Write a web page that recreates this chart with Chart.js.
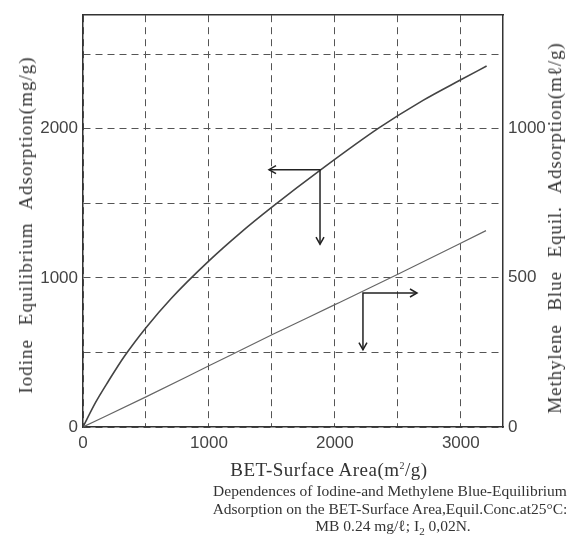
<!DOCTYPE html>
<html><head><meta charset="utf-8">
<script src="https://cdn.jsdelivr.net/npm/chart.js@4"></script>
<style>
html,body{margin:0;padding:0;background:#fff;}
#wrap{position:relative;width:573px;height:549px;overflow:hidden;}
canvas{position:absolute;left:0;top:0;}
.t{position:absolute;font-family:"Liberation Serif","DejaVu Serif",serif;color:#333;white-space:nowrap;}
.rot{transform:translate(-50%,-50%) rotate(-90deg);}
.ctr{transform:translate(-50%,-50%);}
</style></head>
<body><div id="wrap">
<canvas id="c" width="573" height="549"></canvas>
<div class="t rot" id="yl" style="left:26px;top:225px;font-size:19px;word-spacing:8px;letter-spacing:1px;">Iodine Equilibrium Adsorption(mg/g)</div>
<div class="t rot" id="yr" style="left:555px;top:228px;font-size:19px;word-spacing:8px;letter-spacing:0.9px;">Methylene Blue Equil. Adsorption(mℓ/g)</div>
<div class="t ctr" style="left:329px;top:470px;font-size:19px;letter-spacing:0.5px;">BET-Surface Area(m<sup style="font-size:10px;">2</sup>/g)</div>
<div class="t ctr" style="left:390px;top:491px;font-size:15.5px;">Dependences of Iodine-and Methylene Blue-Equilibrium</div>
<div class="t ctr" style="left:390px;top:509px;font-size:15.5px;">Adsorption on the BET-Surface Area,Equil.Conc.at25°C:</div>
<div class="t ctr" style="left:393px;top:527px;font-size:15.5px;">MB 0.24 mg/ℓ; I<sub style="font-size:11px;">2</sub> 0,02N.</div>
</div>
<script>
// ---- data ----
const iodineX = [0, 100, 200, 333, 500, 700, 1000, 1250, 1500, 1900, 2350, 2700, 3000, 3205];
const iodineY = [0, 165, 305, 479, 666, 862, 1114, 1302, 1474, 1732, 2005, 2190, 2328, 2420];
const mbX = [0, 500, 1000, 1500, 2000, 2500, 3200];
const mbY = [0, 101, 205, 309, 410, 512, 658];
const xTickValues = [0, 500, 1000, 1500, 2000, 2500, 3000];
const xTickLabels = ['0', '', '1000', '', '2000', '', '3000'];
const yLeftTickValues = [0, 500, 1000, 1500, 2000, 2500];
const yLeftTickLabels = ['0', '', '1000', '', '2000', ''];
const yRightTickValues = [0, 500, 1000];
const yRightTickLabels = ['0', '500', '1000'];
// arrows: corner, horizontal tip x, vertical tip y (data units)
const arrowCornerX = [1882, 2223];
const arrowCornerY = [1725, 449];
const arrowTipX = [1477, 2652];
const arrowTipY = [1226, 259];
const arrowAxis = ['yL', 'yR'];

const tickFont = {family: '"Liberation Sans", Arial, sans-serif', size: 17};
const gridCommon = {color: '#555', lineWidth: 1, drawTicks: false};
const borderCommon = {color: '#333', width: 1.5, dash: [7, 5]};

const arrowPlugin = {
  id: 'arrows',
  afterDatasetsDraw(chart) {
    const ctx = chart.ctx, xs = chart.scales.x;
    ctx.save();
    ctx.strokeStyle = '#222';
    ctx.lineWidth = 1.5;
    for (let i = 0; i < arrowCornerX.length; i++) {
      const ys = chart.scales[arrowAxis[i]];
      const cx = xs.getPixelForValue(arrowCornerX[i]);
      const cy = ys.getPixelForValue(arrowCornerY[i]);
      const tx = xs.getPixelForValue(arrowTipX[i]);
      const ty = ys.getPixelForValue(arrowTipY[i]);
      ctx.beginPath();
      ctx.moveTo(tx, cy); ctx.lineTo(cx, cy); ctx.lineTo(cx, ty);
      ctx.stroke();
      const d = Math.sign(tx - cx);
      ctx.beginPath();
      ctx.moveTo(tx - d * 7, cy - 4); ctx.lineTo(tx, cy); ctx.lineTo(tx - d * 7, cy + 4);
      ctx.stroke();
      ctx.beginPath();
      ctx.moveTo(cx - 4, ty - 7); ctx.lineTo(cx, ty); ctx.lineTo(cx + 4, ty - 7);
      ctx.stroke();
    }
    ctx.restore();
  }
};

new Chart(document.getElementById('c'), {
  type: 'line',
  data: {
    datasets: [
      {label: 'Iodine', data: iodineX.map((x, i) => ({x, y: iodineY[i]})), yAxisID: 'yL',
       borderColor: '#444', borderWidth: 1.6, pointRadius: 0, cubicInterpolationMode: 'monotone', fill: false},
      {label: 'MB', data: mbX.map((x, i) => ({x, y: mbY[i]})), yAxisID: 'yR',
       borderColor: '#666', borderWidth: 1.2, pointRadius: 0, cubicInterpolationMode: 'monotone', fill: false}
    ]
  },
  options: {
    responsive: false, animation: false, devicePixelRatio: 1,
    layout: {padding: 0},
    plugins: {legend: {display: false}, tooltip: {enabled: false}, title: {display: false}},
    scales: {
      x: {
        type: 'linear', position: 'bottom', min: 0, max: 3335,
        afterBuildTicks: s => { s.ticks = xTickValues.map(v => ({value: v})); },
        afterFit: s => { s.height = 122; },
        ticks: {font: tickFont, color: '#444', padding: 6, maxRotation: 0, autoSkip: false,
                callback: (v, i) => xTickLabels[i]},
        grid: gridCommon, border: borderCommon
      },
      xTop: {
        type: 'linear', position: 'top', min: 0, max: 3335,
        afterFit: s => { s.height = 6; },
        ticks: {display: false}, grid: {display: false},
        border: {color: '#333', width: 1.5}
      },
      yL: {
        type: 'linear', position: 'left', min: 0, max: 2761,
        afterBuildTicks: s => { s.ticks = yLeftTickValues.map(v => ({value: v})); },
        afterFit: s => { s.width = 83; },
        ticks: {font: tickFont, color: '#444', padding: 5, autoSkip: false,
                callback: (v, i) => yLeftTickLabels[i]},
        grid: gridCommon, border: borderCommon
      },
      yR: {
        type: 'linear', position: 'right', min: 0, max: 1380,
        afterBuildTicks: s => { s.ticks = yRightTickValues.map(v => ({value: v})); },
        afterFit: s => { s.width = 70; },
        ticks: {font: tickFont, color: '#444', padding: 5, autoSkip: false,
                callback: (v, i) => yRightTickLabels[i]},
        grid: {drawOnChartArea: false, drawTicks: false},
        border: {color: '#333', width: 1.5}
      }
    }
  },
  plugins: [arrowPlugin]
});
</script>
</body></html>
